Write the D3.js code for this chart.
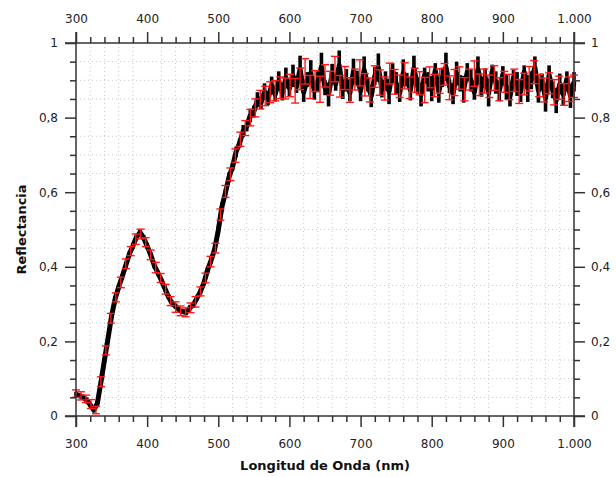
<!DOCTYPE html>
<meta charset="UTF-8">
<style>
body { margin: 0; background: #fff; }
text { font-family: "DejaVu Sans", sans-serif; }
.tick text { font-size: 12px; fill: #222; }
.grid line { stroke: #c8c8c8; stroke-width: 1; stroke-dasharray: 1,3; }
.frame line { stroke: #333; stroke-width: 1.5; }
.tick line { stroke: #333; stroke-width: 1.5; }
</style>
<body>
<script src="https://d3js.org/d3.v7.min.js"></script>
<script>

// raw measurement (black), one point every 5 nm
var waves = d3.range(300, 1001, 5);
var blackY = [
  0.058, 0.054, 0.050, 0.042, 0.030, 0.016, 0.034, 0.090, 0.150, 0.208,
  0.268, 0.314, 0.346, 0.374, 0.404, 0.434, 0.456, 0.480, 0.492, 0.478,
  0.456, 0.432, 0.404, 0.384, 0.364, 0.342, 0.320, 0.302, 0.294, 0.284,
  0.280, 0.278, 0.290, 0.298, 0.316, 0.334, 0.358, 0.392, 0.418, 0.448,
  0.498, 0.560, 0.598, 0.640, 0.668, 0.708, 0.732, 0.764, 0.776, 0.806,
  0.816, 0.848, 0.840, 0.870, 0.852, 0.886, 0.862, 0.898, 0.866, 0.906,
  0.878, 0.912, 0.884, 0.930, 0.868, 0.902, 0.920, 0.872, 0.896, 0.936,
  0.880, 0.862, 0.918, 0.890, 0.940, 0.874, 0.900, 0.866, 0.924, 0.906,
  0.872, 0.928, 0.888, 0.858, 0.912, 0.934, 0.876, 0.898, 0.870, 0.926,
  0.892, 0.866, 0.920, 0.902, 0.874, 0.932, 0.886, 0.862, 0.914, 0.896,
  0.878, 0.926, 0.870, 0.908, 0.936, 0.884, 0.864, 0.918, 0.892, 0.876,
  0.922, 0.900, 0.868, 0.930, 0.882, 0.910, 0.866, 0.924, 0.894, 0.872,
  0.916, 0.882, 0.856, 0.908, 0.890, 0.870, 0.922, 0.878, 0.900, 0.934,
  0.872, 0.898, 0.852, 0.914, 0.874, 0.846, 0.890, 0.862, 0.904, 0.858,
  0.896
];
var blackErr = [
  0.007, 0.006, 0.007, 0.008, 0.007, 0.006, 0.007, 0.008, 0.007, 0.008,
  0.007, 0.008, 0.007, 0.006, 0.008, 0.007, 0.008, 0.007, 0.008, 0.007,
  0.008, 0.007, 0.008, 0.007, 0.006, 0.008, 0.007, 0.008, 0.007, 0.008,
  0.007, 0.008, 0.007, 0.008, 0.007, 0.008, 0.007, 0.008, 0.009, 0.008,
  0.009, 0.012, 0.010, 0.013, 0.011, 0.014, 0.012, 0.016, 0.013, 0.018,
  0.016, 0.020, 0.017, 0.022, 0.018, 0.024, 0.019, 0.026, 0.020, 0.028,
  0.022, 0.030, 0.018, 0.036, 0.026, 0.020, 0.034, 0.024, 0.028, 0.038,
  0.020, 0.032, 0.026, 0.018, 0.040, 0.024, 0.030, 0.022, 0.034, 0.020,
  0.028, 0.036, 0.018, 0.030, 0.024, 0.038, 0.022, 0.026, 0.034, 0.020,
  0.030, 0.024, 0.036, 0.018, 0.028, 0.034, 0.022, 0.032, 0.020, 0.026,
  0.034, 0.020, 0.030, 0.026, 0.038, 0.018, 0.028, 0.032, 0.022, 0.036,
  0.024, 0.030, 0.020, 0.034, 0.026, 0.022, 0.036, 0.018, 0.030, 0.028,
  0.022, 0.034, 0.026, 0.020, 0.032, 0.028, 0.018, 0.036, 0.024, 0.030,
  0.032, 0.020, 0.036, 0.026, 0.022, 0.034, 0.028, 0.030, 0.020, 0.032,
  0.026
];

// averaged curve (red, with error bars), one point every 7 nm
var redWaves = d3.range(300, 1001, 7);
var redY = [
  0.060, 0.054, 0.046, 0.032, 0.016, 0.092, 0.176, 0.262, 0.318, 0.358,
  0.408, 0.442, 0.474, 0.488, 0.466, 0.432, 0.398, 0.370, 0.340, 0.308,
  0.292, 0.282, 0.278, 0.290, 0.306, 0.334, 0.370, 0.414, 0.450, 0.540,
  0.602, 0.648, 0.698, 0.742, 0.772, 0.800, 0.826, 0.848, 0.858, 0.868,
  0.872, 0.880, 0.878,
  0.886, 0.872, 0.904, 0.924, 0.882, 0.898, 0.876, 0.912, 0.892, 0.930,
  0.884, 0.906, 0.874, 0.902, 0.920, 0.888, 0.874, 0.910, 0.894, 0.878,
  0.918, 0.896, 0.884, 0.912, 0.880, 0.900, 0.892, 0.874, 0.908, 0.886,
  0.898, 0.916, 0.880, 0.894, 0.906, 0.876, 0.902, 0.918, 0.888, 0.898,
  0.884, 0.906, 0.876, 0.896, 0.882, 0.900, 0.870, 0.890, 0.904, 0.922,
  0.886, 0.874, 0.892, 0.868, 0.880, 0.862, 0.876, 0.884
];
var redErr = [
  0.010, 0.011, 0.010, 0.012, 0.010, 0.013, 0.012, 0.013, 0.012, 0.014,
  0.013, 0.012, 0.014, 0.013, 0.012, 0.013, 0.014, 0.012, 0.013, 0.012,
  0.014, 0.013, 0.012, 0.013, 0.014, 0.012, 0.013, 0.014, 0.013, 0.015,
  0.016, 0.017, 0.018, 0.019, 0.020, 0.022, 0.024, 0.025, 0.026, 0.028,
  0.027, 0.029, 0.028,
  0.030, 0.033, 0.029, 0.034, 0.031, 0.028, 0.035, 0.030, 0.032, 0.034,
  0.029, 0.031, 0.033, 0.028, 0.035, 0.030, 0.032, 0.029, 0.034, 0.031,
  0.028, 0.033, 0.030, 0.035, 0.029, 0.032, 0.031, 0.034, 0.028, 0.030,
  0.033, 0.029, 0.032, 0.035, 0.030, 0.031, 0.028, 0.034, 0.029, 0.032,
  0.030, 0.033, 0.031, 0.028, 0.034, 0.030, 0.032, 0.029, 0.033, 0.031,
  0.030, 0.032, 0.028, 0.034, 0.031, 0.029, 0.033, 0.030
];

var xMajor = d3.range(300, 1001, 100);
var yMajor = [0, 0.2, 0.4, 0.6, 0.8, 1];

var locale = d3.formatLocale({decimal: ",", thousands: ".", grouping: [3], currency: ["", ""]});
var fmtX = locale.format(",d"),
    fmtY = locale.format(".1~f");

var margin = {top: 43, right: 42, bottom: 61, left: 76},
    width = 616 - margin.left - margin.right,
    height = 477 - margin.top - margin.bottom;

var x = d3.scaleLinear().domain([300, 1000]).range([0, width]);
var y = d3.scaleLinear().domain([0, 1]).range([height, 0]);

var xMinor = d3.range(300, 1001, 20).filter(function(v) { return v % 100 !== 0; });
var yMinor = d3.range(0, 21).map(function(i) { return i / 20; })
    .filter(function(v, i) { return i % 4 !== 0; });

var svg = d3.select("body").append("svg")
    .attr("width", 616)
    .attr("height", 477),
  g = svg.append("g")
    .attr("transform", "translate(" + margin.left + "," + margin.top + ")");

// dotted grid on the minor steps
var grid = g.append("g").attr("class", "grid");
grid.selectAll(".gx").data(xMinor).enter().append("line")
    .attr("x1", d => x(d)).attr("x2", d => x(d))
    .attr("y1", 0).attr("y2", height);
grid.selectAll(".gy").data(yMinor).enter().append("line")
    .attr("y1", d => y(d)).attr("y2", d => y(d))
    .attr("x1", 0).attr("x2", width);

var black = waves.map(function(w, i) { return {x: w, y: blackY[i], e: blackErr[i]}; });
var red = redWaves.map(function(w, i) { return {x: w, y: redY[i], e: redErr[i]}; });

// black raw data
g.append("g").selectAll("line").data(black).enter().append("line")
    .attr("x1", d => x(d.x)).attr("x2", d => x(d.x))
    .attr("y1", d => y(d.y - d.e)).attr("y2", d => y(d.y + d.e))
    .attr("stroke", "#000").attr("stroke-width", 3.6);

g.append("path").datum(black)
    .attr("fill", "none")
    .attr("stroke", "#000")
    .attr("stroke-width", 5)
    .attr("stroke-linejoin", "round")
    .attr("d", d3.line().x(d => x(d.x)).y(d => y(d.y)));

// red error bars
var rb = g.append("g").attr("stroke", "#ff1a1a").attr("stroke-width", 1.4)
  .selectAll("g").data(red).enter().append("g")
    .attr("transform", d => "translate(" + x(d.x) + ",0)");
rb.append("line")
    .attr("y1", d => y(d.y - d.e)).attr("y2", d => y(d.y + d.e));
rb.append("line")
    .attr("x1", -4).attr("x2", 4)
    .attr("y1", d => y(d.y - d.e)).attr("y2", d => y(d.y - d.e));
rb.append("line")
    .attr("x1", -4).attr("x2", 4)
    .attr("y1", d => y(d.y + d.e)).attr("y2", d => y(d.y + d.e));

// frame lines, running past the corners
var ext = 11;
var frame = g.append("g").attr("class", "frame");
frame.append("line").attr("x1", 0).attr("x2", 0).attr("y1", -ext).attr("y2", height + ext);
frame.append("line").attr("x1", width).attr("x2", width).attr("y1", -ext).attr("y2", height + ext);
frame.append("line").attr("x1", -ext).attr("x2", width + ext).attr("y1", 0).attr("y2", 0);
frame.append("line").attr("x1", -ext).attr("x2", width + ext).attr("y1", height).attr("y2", height);

function addAxis(axis, tr) {
  var a = g.append("g").attr("transform", tr || null).call(axis);
  a.select(".domain").remove();
  a.selectAll("text").attr("font-family", null).attr("font-size", null);
  return a;
}

// major ticks with labels
addAxis(d3.axisBottom(x).tickValues(xMajor).tickFormat(fmtX).tickSize(ext).tickPadding(12), "translate(0," + height + ")");
addAxis(d3.axisTop(x).tickValues(xMajor).tickFormat(fmtX).tickSize(ext).tickPadding(9));
addAxis(d3.axisLeft(y).tickValues(yMajor).tickFormat(fmtY).tickSize(ext).tickPadding(7));
addAxis(d3.axisRight(y).tickValues(yMajor).tickFormat(fmtY).tickSize(ext).tickPadding(6), "translate(" + width + ",0)");

// minor ticks
addAxis(d3.axisBottom(x).tickValues(xMinor).tickFormat("").tickSize(6), "translate(0," + height + ")");
addAxis(d3.axisTop(x).tickValues(xMinor).tickFormat("").tickSize(6));
addAxis(d3.axisLeft(y).tickValues(yMinor).tickFormat("").tickSize(6));
addAxis(d3.axisRight(y).tickValues(yMinor).tickFormat("").tickSize(6), "translate(" + width + ",0)");

// axis titles
svg.append("text")
    .attr("x", margin.left + width / 2)
    .attr("y", 470)
    .attr("text-anchor", "middle")
    .style("font-size", "13px")
    .style("font-weight", "bold")
    .attr("fill", "#111")
    .text("Longitud de Onda (nm)");

svg.append("text")
    .attr("transform", "translate(26," + (margin.top + height / 2) + ") rotate(-90)")
    .attr("text-anchor", "middle")
    .style("font-size", "13px")
    .style("font-weight", "bold")
    .attr("fill", "#111")
    .text("Reflectancia");

</script>
</body>
